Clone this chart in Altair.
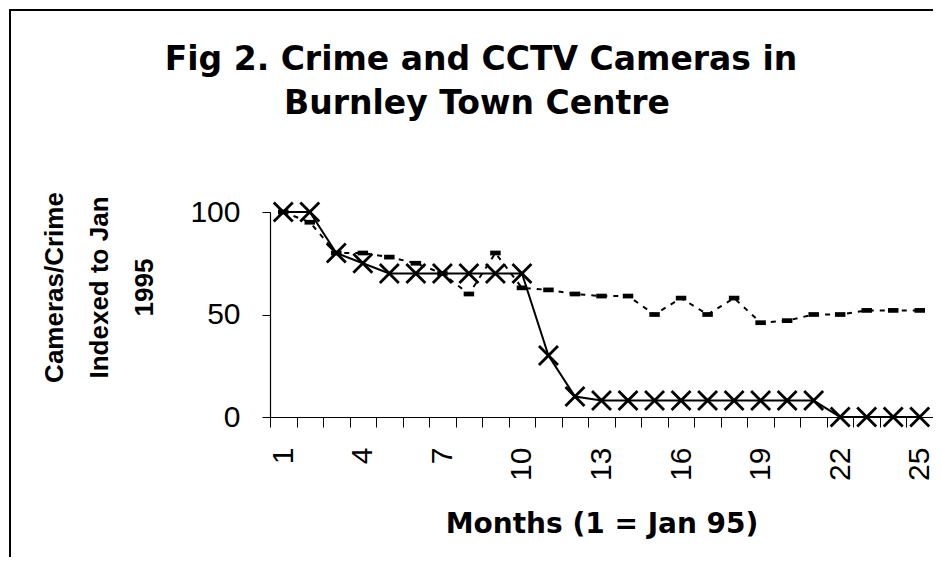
import altair as alt
import pandas as pd

# ---- data ----
months = list(range(1, 26))
series_x = [100, 100, 80, 75, 70, 70, 70, 70, 70, 70, 30, 10,
            8, 8, 8, 8, 8, 8, 8, 8, 8, 0, 0, 0, 0]
series_dash = [100, 95, 80, 80, 78, 75, 70, 60, 80, 63, 62, 60,
               59, 59, 50, 58, 50, 58, 46, 47, 50, 50, 52, 52, 52]
month_labels = [1, 4, 7, 10, 13, 16, 19, 22, 25]
y_ticks = [0, 50, 100]
title_lines = ["Fig 2. Crime and CCTV Cameras in", "Burnley Town Centre"]
x_title = "Months (1 = Jan 95)"
y_title = ["Cameras/Crime", "Indexed to Jan", "1995"]

df = pd.DataFrame({"month": months, "x_series": series_x, "dash_series": series_dash})

W, H = 663, 205
label_expr = "indexof(%s, datum.value) >= 0 ? datum.label : ''" % str(month_labels)

x_enc = alt.X(
    "month:O",
    scale=alt.Scale(type="band", paddingInner=0, paddingOuter=0),
    axis=alt.Axis(
        title=x_title,
        labelExpr=label_expr,
        labelAngle=270,
        labelAlign="right",
        labelBaseline="middle",
        labelFont="Liberation Sans",
        labelFontSize=30,
        labelColor="black",
        labelPadding=20,
        labelOverlap=False,
        tickBand="extent",
        tickSize=10,
        tickColor="black",
        tickWidth=1,
        domainColor="black",
        domainWidth=1.2,
        grid=False,
        titleFont="DejaVu Sans",
        titleFontWeight="bold",
        titleFontSize=28,
        titleColor="black",
        titleY=115,
        titleBaseline="alphabetic",
    ),
)

y_scale = alt.Scale(domain=[0, 100], nice=False)
y_axis = alt.Axis(
    title=y_title,
    values=y_ticks,
    grid=False,
    tickSize=8,
    tickColor="black",
    domainColor="black",
    domainWidth=1.2,
    labelFont="Liberation Sans",
    labelFontSize=30,
    labelColor="black",
    labelPadding=22,
    titleFont="Liberation Sans",
    titleFontWeight="bold",
    titleFontSize=26,
    titleColor="black",
    titleAngle=270,
    titleAlign="center",
    titleBaseline="middle",
    titleLineHeight=45,
    titleX=-216,
    titleY=75,
)

base = alt.Chart(df)

dash_line = base.mark_line(color="black", strokeWidth=2, strokeDash=[5, 6]).encode(
    x=x_enc, y=alt.Y("dash_series:Q", scale=y_scale, axis=y_axis)
)
dash_pts = base.mark_point(
    shape="M-1,-0.45L1,-0.45L1,0.45L-1,0.45Z", filled=True, size=110, color="black", opacity=1
).encode(x="month:O", y="dash_series:Q")

x_line = base.mark_line(color="black", strokeWidth=2).encode(x="month:O", y="x_series:Q")
x_pts = base.mark_point(
    shape="M-1,-1L1,1M1,-1L-1,1", filled=False, size=360, color="black", strokeWidth=2.8, opacity=1
).encode(x="month:O", y="x_series:Q")

one = pd.DataFrame({"k": [0]})
frame_left = alt.Chart(one).mark_rule(color="black", strokeWidth=2).encode(
    x=alt.value(-260), y=alt.value(-202), y2=alt.value(350)
)
frame_top = alt.Chart(one).mark_rule(color="black", strokeWidth=2).encode(
    x=alt.value(-261), x2=alt.value(W + 10), y=alt.value(-202), y2=alt.value(-202)
)
# plain white band along the top of the plot area (no border there in the reference)
top_mask = alt.Chart(one).mark_rule(color="white", strokeWidth=3).encode(
    x=alt.value(1), x2=alt.value(W + 2), y=alt.value(0), y2=alt.value(0)
)

title_style = dict(font="DejaVu Sans", fontWeight="bold", fontSize=33, color="black",
                   align="center", baseline="alphabetic")
title1 = alt.Chart(one).mark_text(**title_style).encode(
    text=alt.value(title_lines[0]), x=alt.value(211), y=alt.value(-142)
)
title2 = alt.Chart(one).mark_text(**title_style).encode(
    text=alt.value(title_lines[1]), x=alt.value(207), y=alt.value(-98)
)

chart = (
    alt.layer(frame_left, frame_top, top_mask, title1, title2, dash_line, dash_pts, x_line, x_pts)
    .properties(
        width=W,
        height=H,
        autosize=alt.AutoSizeParams(type="none"),
        padding={"left": 262, "top": 204, "right": 0, "bottom": 140},
    )
    .configure_view(stroke="transparent", strokeWidth=0)
    .configure_axis(grid=False)
    .configure(background="white")
)

chart.save("out.html", embed_options={"renderer": "svg", "actions": False})
